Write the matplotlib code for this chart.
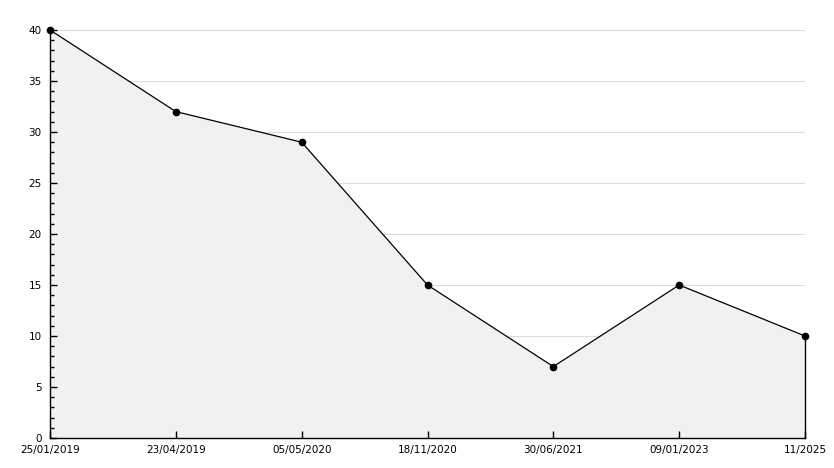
import matplotlib
matplotlib.use("Agg")
import matplotlib.pyplot as plt
from matplotlib.ticker import MultipleLocator

labels = ["25/01/2019", "23/04/2019", "05/05/2020", "18/11/2020", "30/06/2021", "09/01/2023", "11/2025"]
values = [40, 32, 29, 15, 7, 15, 10]
grid_levels = [5, 10, 15, 20, 25, 30, 35, 40]

W, H = 834, 468
fig = plt.figure(figsize=(W / 100, H / 100), dpi=100)
ax = fig.add_axes([50 / W, (H - 438) / H, 755 / W, 408 / H])

x = list(range(len(labels)))
for g in grid_levels:
    ax.axhline(g, color="#dddddd", linewidth=0.8, zorder=0.5)
ax.fill_between(x, values, 0, color="#f1f1f1", zorder=1, linewidth=0)
ax.plot(x, values, color="black", linewidth=0.9, zorder=3, clip_on=False)
ax.plot([x[-1], x[-1]], [0, values[-1]], color="black", linewidth=1.0, zorder=3, clip_on=False)
ax.plot(x, values, linestyle="none", marker="o", markersize=4.5, color="black", zorder=4, clip_on=False)

ax.set_xlim(0, len(labels) - 1)
ax.set_ylim(0, 40)
ax.set_xticks(x)
ax.set_xticklabels(labels)
ax.yaxis.set_major_locator(MultipleLocator(5))
ax.yaxis.set_minor_locator(MultipleLocator(1))
ax.set_axisbelow(False)

for s in ["top", "right"]:
    ax.spines[s].set_visible(False)
for s in ["left", "bottom"]:
    ax.spines[s].set_color("black")
    ax.spines[s].set_linewidth(1.0)
    ax.spines[s].set_zorder(3.5)

ax.tick_params(axis="y", which="major", direction="in", length=5, width=1, labelsize=7.5, pad=6)
ax.tick_params(axis="y", which="minor", direction="in", length=3, width=1)
ax.tick_params(axis="x", which="major", direction="in", length=5, width=1, labelsize=7.5, pad=5)
ax.set_facecolor("white")

fig.savefig("out.png", dpi=100)
